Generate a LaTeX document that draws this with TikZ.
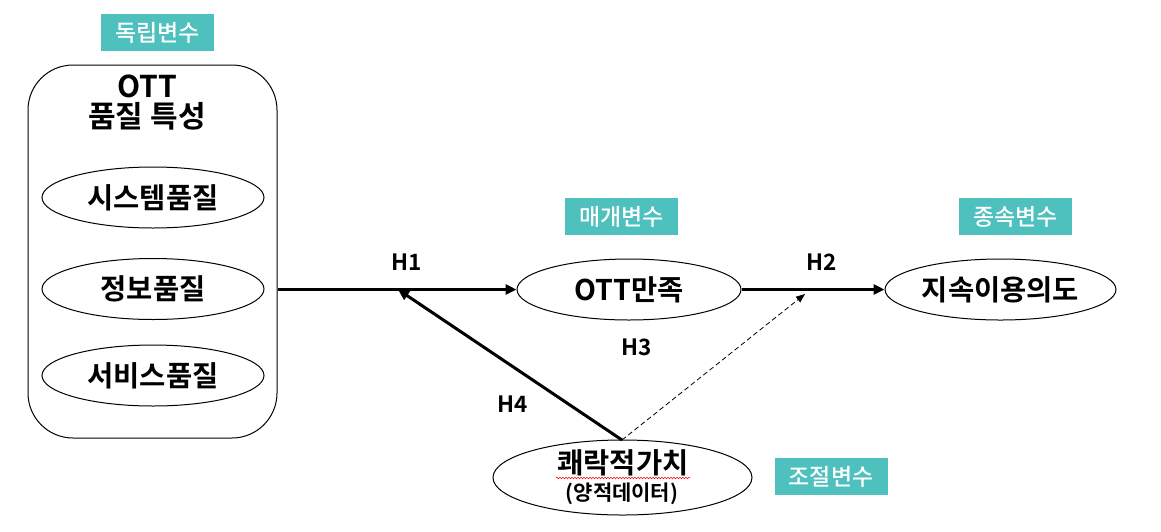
\documentclass[tikz,border=0pt]{standalone}
\usepackage{fontspec}
\setmainfont{Noto Sans CJK KR}[BoldFont={Noto Sans CJK KR Bold}]
\newfontfamily\tagfont{Noto Sans CJK KR Medium}
\usetikzlibrary{arrows.meta,decorations.pathmorphing,shapes.geometric}
\definecolor{teal1}{RGB}{78,192,190}
\tikzset{
  tag/.style={fill=teal1,text=white,minimum width=113pt,minimum height=37pt,inner sep=0pt,font=\tagfont\fontsize{23}{24}\selectfont},
  oval/.style={draw=black,line width=1pt,ellipse,inner sep=0pt,font=\bfseries\fontsize{28.5}{30}\selectfont},
  hlabel/.style={font=\bfseries\fontsize{22.5}{24}\selectfont},
  thick arrow/.style={line width=3pt,-{Triangle[length=11pt,width=10pt]}},
}
\begin{document}
\begin{tikzpicture}[x=1pt,y=-1pt]
\useasboundingbox (0,0) rectangle (1161,531);
% labels
\node[tag] (iv) at (157.5,32.5) {독립변수};
\node[tag] (mv) at (621.5,216.5) {매개변수};
\node[tag] (dv) at (1015.5,216.5) {종속변수};
\node[tag] (mod) at (831,476.5) {조절변수};
% big box
\node[draw=black,line width=1pt,rounded corners=45pt,minimum width=249pt,minimum height=373pt,inner sep=0pt] (box) at (152.5,251.5) {};
\node[font=\bfseries\fontsize{30}{30}\selectfont,align=center] (boxtitle) at (147,103) {OTT\\품질 특성};
\node[oval,minimum width=222pt,minimum height=61pt] (e1) at (153,197.5) {시스템품질};
\node[oval,minimum width=222pt,minimum height=61pt] (e2) at (153,289) {정보품질};
\node[oval,minimum width=222pt,minimum height=61pt] (e3) at (153,375.5) {서비스품질};
% mediator, dependent
\node[oval,minimum width=224pt,minimum height=61pt] (sat) at (629,289.5) {OTT만족};
\node[oval,minimum width=231pt,minimum height=61pt] (int) at (1000.5,289.5) {지속이용의도};
% moderator
\node[oval,minimum width=259pt,minimum height=75pt] (hed) at (622.5,477.5) {};
\node[font=\bfseries\fontsize{28.5}{30}\selectfont] (hedt) at (623,463) {쾌락적가치};
\node[font=\bfseries\fontsize{21}{22}\selectfont] (hedsub) at (622,494) {(양적데이터)};
\draw[red,line width=0.5pt,decorate,decoration={snake,amplitude=0.8pt,segment length=3pt}] (556,478) -- (690,478);
% coordinates
\coordinate (j1) at (398,289.5);
\coordinate (j2) at (805,294);
\coordinate (top) at (622,440);
% connectors
\draw[thick arrow] (box.east|-sat.west) -- (sat.west);
\draw[thick arrow] (sat.east) -- (int.west);
\draw[thick arrow] (top) -- (j1);
\draw[line width=0.8pt,dash pattern=on 5pt off 3pt,-{Triangle[length=9pt,width=7pt]}] (top) -- (j2);
% H labels
\node[hlabel] (h1) at (407,262) {H1};
\node[hlabel] (h2) at (822,262) {H2};
\node[hlabel] (h3) at (637,347) {H3};
\node[hlabel] (h4) at (513,404) {H4};
\end{tikzpicture}
\end{document}
